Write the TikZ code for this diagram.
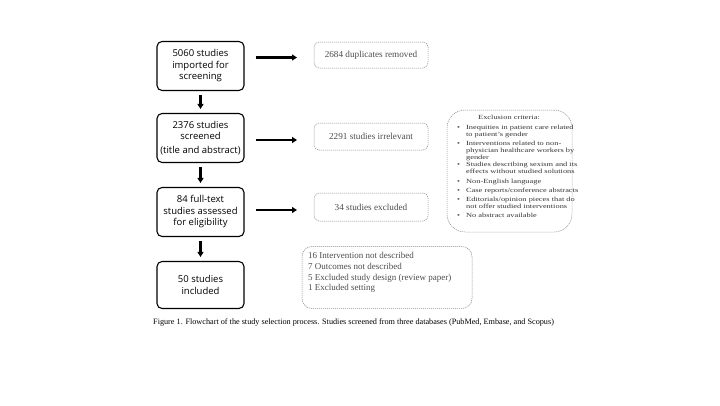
\documentclass[tikz,border=0pt]{standalone}
\usepackage{fontspec}
\setmainfont{Liberation Serif}
\newfontfamily\boxfont{Open Sans}
\newfontfamily\exfont[FakeStretch=1.33]{Liberation Serif}
\usetikzlibrary{arrows.meta}
\begin{document}
\begin{tikzpicture}[x=1pt,y=-1pt,
  mainbox/.style={draw, line width=1.1pt, rounded corners=5pt, minimum width=87pt,
    minimum height=49pt, align=center, inner sep=0pt,
    font=\boxfont\fontsize{9.5}{11.5}\selectfont},
  sidebox/.style={draw=black!45, dash pattern=on 1.2pt off 0.8pt, line width=0.5pt,
    rounded corners=5pt, minimum width=114pt, minimum height=27pt, text=black!70,
    font=\fontsize{9.2}{11}\selectfont},
  dashbox/.style={draw=black!45, dash pattern=on 1.2pt off 0.8pt, line width=0.5pt},
  varrow/.style={line width=2.7pt, -{Triangle[length=5pt,width=6pt]}},
  harrow/.style={line width=2.7pt, -{Triangle[length=5pt,width=6pt]}},
]
\useasboundingbox (0,0) rectangle (720,405);

% main column
\node[mainbox] (s1) at (200.5,66) {5060 studies\\imported for\\screening};
\node[mainbox] (s2) at (200.5,138) {2376 studies\\screened\\[2pt](title and abstract)};
\node[mainbox] (s3) at (200.5,212) {84 full-text\\studies assessed\\for eligibility};
\node[mainbox, minimum height=47pt] (s4) at (200.5,285) {50 studies\\included};

% side boxes
\node[sidebox, minimum height=26pt] (r1) at (371,55) {2684 duplicates removed};
\node[sidebox] (r2) at (371,136.5) {2291 studies irrelevant};
\node[sidebox, minimum height=28pt] (r3) at (371,207) {34 studies excluded};

% vertical arrows
\draw[varrow] ([yshift=-4pt]s1.south) -- ([yshift=4pt]s2.north);
\draw[varrow] ([yshift=-4pt]s2.south) -- ([yshift=4pt]s3.north);
\draw[varrow] ([yshift=-4pt]s3.south) -- ([yshift=4pt]s4.north);

% horizontal arrows
\coordinate (h1a) at (255.5,57.5); \coordinate (h1b) at (297,57.5);
\coordinate (h2a) at (255.5,140);  \coordinate (h2b) at (297,140);
\coordinate (h3a) at (255.5,210);  \coordinate (h3b) at (297,210);
\draw[harrow] (h1a) -- (h1b);
\draw[harrow] (h2a) -- (h2b);
\draw[harrow] (h3a) -- (h3b);

% exclusion criteria box
\node[dashbox, rounded corners=18pt, minimum width=125pt, minimum height=122pt] (ex) at (509.5,171) {};
\node[font=\exfont\fontsize{6.3}{7}\selectfont, text=black!80, inner sep=0pt] (extitle) at (509,117) {Exclusion criteria:};
\node[anchor=north west, inner sep=0pt, font=\exfont\fontsize{6.3}{7}\selectfont, text=black!80] (exlist) at (457,124.1) {%
\begin{tabular}{@{}l@{\hspace{6pt}}l@{}}
•& Inequities in patient care related\\
 & to patient’s gender\\[2pt]
•& Interventions related to non-\\
 & physician healthcare workers by\\
 & gender\\
•& Studies describing sexism and its\\
 & effects without studied solutions\\[3pt]
•& Non-English language\\[2pt]
•& Case reports/conference abstracts\\[2.5pt]
•& Editorials/opinion pieces that do\\
 & not offer studied interventions\\[2pt]
•& No abstract available
\end{tabular}};

% bottom box
\node[dashbox, rounded corners=10pt, minimum width=170pt, minimum height=62pt] (bb) at (387,277.5) {};
\node[anchor=north west, inner sep=0pt, align=left, text=black!70,
  font=\fontsize{9}{10.7}\selectfont] (bbtext) at (308,252.3)
  {16 Intervention not described\\7 Outcomes not described\\5 Excluded study design (review paper)\\1 Excluded setting};

% caption
\node[anchor=west, inner sep=0pt, font=\fontsize{8.2}{9.8}\selectfont] (cap) at (153,322)
  {Figure 1. Flowchart of the study selection process. Studies screened from three databases (PubMed, Embase, and Scopus)};
\end{tikzpicture}
\end{document}
